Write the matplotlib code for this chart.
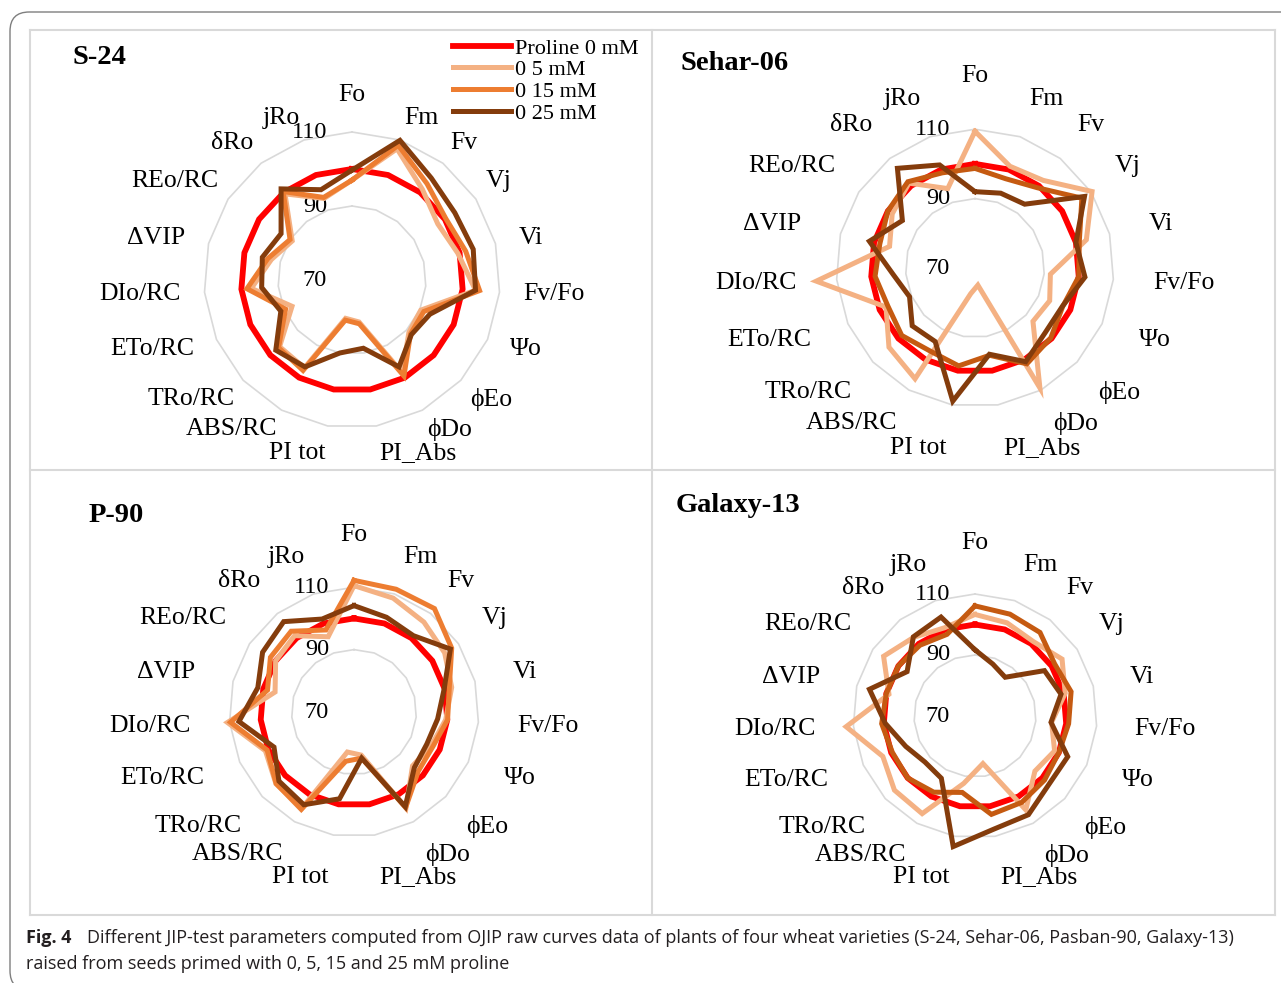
import matplotlib
matplotlib.use("Agg")
import matplotlib.pyplot as plt
from matplotlib.lines import Line2D
from matplotlib.patches import FancyBboxPatch
import numpy as np

W, H = 1281, 983

params = ['Fo', 'Fm', 'Fv', 'Vj', 'Vi', 'Fv/Fo', 'Ψo', 'ϕEo', 'ϕDo', 'PI_Abs',
          'PI tot', 'ABS/RC', 'TRo/RC', 'ETo/RC', 'DIo/RC', 'ΔVIP', 'REo/RC', 'δRo', 'jRo']
legend_labels = ['Proline 0 mM', '0 5 mM', '0 15 mM', '0 25 mM']

# values in % of control
s24_0 = [100] * 19
s24_5 = [97, 107.5, 101, 97.7, 99.5, 103.5, 90.3, 90.9, 98.5, 81.5,
         80.5, 97, 96.6, 87.7, 97.3, 92.5, 89.3, 99.5, 93.3]
s24_15 = [97, 108.5, 103, 100.3, 101.7, 104.6, 91.2, 91.5, 99.5, 82,
          81, 97.8, 97, 89.6, 98.5, 93.5, 90, 100.3, 93.6]
s24_25 = [99.7, 109.9, 104.9, 103.2, 103.8, 103.5, 93, 91.8, 96.7, 88.7,
          90, 96.7, 98, 91, 94.5, 95, 92.9, 101.2, 95.8]

seh_0 = [100] * 19
seh_5 = [109.4, 101, 102, 110.3, 103.1, 91.8, 93.5, 92.7, 109.3, 75,
         77.5, 106.3, 103.7, 98, 115.9, 95.4, 98.5, 101, 94.2]
seh_15 = [98.7, 97.2, 99.3, 106.8, 101, 100, 97.6, 99.7, 101.4, 95.5,
          98.6, 97.2, 98.7, 97.4, 98.9, 98.3, 100, 101.5, 99]
seh_25 = [92, 92.8, 93.3, 107.7, 100, 101.8, 97.5, 97.5, 100.7, 95.2,
          108.9, 94.1, 94.6, 90.6, 93.6, 101.4, 95, 106.4, 101.4]

p90_0 = [100] * 19
p90_5 = [110.5, 108.6, 106.5, 104.7, 102.3, 99.5, 97, 95.5, 105, 84,
         83, 105, 104, 101, 110.7, 96.1, 100, 101, 95.5]
p90_15 = [112.2, 111.6, 112, 107.4, 101.5, 100.1, 97.6, 98, 104.8, 85,
          86, 105.5, 103.9, 100.4, 109.7, 98.6, 102, 102.8, 97.8]
p90_25 = [104.1, 102.1, 101, 106.9, 99.8, 96.9, 95.5, 96.3, 104.5, 85,
          98.2, 103.8, 102.7, 98, 107, 101.8, 105, 106.7, 101.5]

gal_0 = [100] * 19
gal_5 = [103.3, 102.3, 101, 104.1, 100.5, 95.2, 98.5, 96.7, 105, 85.8,
         92.4, 106.4, 105.9, 103, 112.4, 99.1, 105.8, 102.7, 100.6]
gal_15 = [106.1, 105.3, 104.7, 101.2, 102.5, 100.8, 100, 101, 102.2, 102.7,
          95.4, 98.4, 100, 99.6, 100.7, 100, 100, 99.4, 98.3]
gal_25 = [91.7, 88, 86.1, 97.2, 99.1, 95, 103.2, 103, 106.8, 107.6,
          113.4, 93.2, 92.3, 94.8, 99.5, 105.7, 96.6, 102.9, 104.3]

# panel: title, title pos (px), centre (px), px per unit, label distance (px), series, 15 mM colour
panels = [
    ('S-24', (73, 58), (352, 280), 3.7, 168, [s24_0, s24_5, s24_15, s24_25], '#ED7D31'),
    ('Sehar-06', (680, 63), (975, 268), 3.47, 175, [seh_0, seh_5, seh_15, seh_25], '#C55A11'),
    ('P-90', (89, 516), (354, 712), 3.12, 160, [p90_0, p90_5, p90_15, p90_25], '#ED7D31'),
    ('Galaxy-13', (676, 506), (975, 716), 3.05, 156, [gal_0, gal_5, gal_15, gal_25], '#C55A11'),
]

serif = ['Liberation Serif', 'DejaVu Serif']
plt.rcParams['font.family'] = serif

fig = plt.figure(figsize=(W / 100, H / 100), dpi=100)

# outer rounded border
fig.add_artist(FancyBboxPatch((10 / W, 1 - 990 / H), 1300 / W, 978 / H,
                              boxstyle='round,pad=0,rounding_size=0.015',
                              transform=fig.transFigure, fill=False,
                              edgecolor='#7f7f7f', lw=1.0, mutation_aspect=W / H))
# panel frames
fc = '#D9D9D9'
for xs, ys in [([30, 1275], [30, 30]), ([30, 1275], [470, 470]), ([30, 1275], [915, 915]),
               ([30, 30], [30, 915]), ([652, 652], [30, 915]), ([1275, 1275], [30, 915])]:
    fig.add_artist(Line2D([x / W for x in xs], [1 - y / H for y in ys],
                          transform=fig.transFigure, color=fc, lw=1.5))

theta = np.linspace(0, 2 * np.pi, 19, endpoint=False)
theta_c = np.append(theta, theta[0])
rmax_units = 52

for title, tpos, (cx, cy), scale, dlab, series, c15 in panels:
    h = rmax_units * scale
    ax = fig.add_axes([(cx - h) / W, 1 - (cy + h) / H, 2 * h / W, 2 * h / H],
                      projection='polar')
    ax.set_theta_zero_location('N')
    ax.set_theta_direction(-1)
    ax.set_ylim(70, 70 + rmax_units)
    ax.grid(False)
    ax.set_xticks([])
    ax.set_yticks([])
    ax.spines['polar'].set_visible(False)
    ax.patch.set_alpha(0)

    for g in [90, 110]:
        ax.plot(theta_c, [g] * 20, color='#D9D9D9', lw=1.2, zorder=1)
    for v in [70, 90, 110]:
        ax.annotate(str(v), xy=(0, v), xytext=(-18, 0), textcoords='offset points',
                    ha='right', va='center', fontsize=17.5, family=serif)

    colors = ['#FF0000', '#F4B183', c15, '#843C0C']
    widths = [4.2, 3.6, 3.6, 3.6]
    handles = []
    for vals, col, lw in zip(series, colors, widths):
        ln, = ax.plot(theta_c, list(vals) + [vals[0]], color=col, lw=lw,
                      solid_joinstyle='miter', zorder=3)
        handles.append(ln)

    for t, name in zip(theta, params):
        sx, sy = np.sin(t), np.cos(t)
        ha = 'left' if sx > 0.1 else ('right' if sx < -0.1 else 'center')
        va = 'bottom' if sy > 0.5 else ('top' if sy < -0.5 else 'center')
        if abs(sx) < 0.1:
            d = dlab + 6
        elif va == 'center':
            d = dlab + 4
        elif name in ('ϕDo', 'ABS/RC'):
            d = dlab - 11
        elif name in ('PI_Abs', 'PI tot'):
            d = dlab - 4
        else:
            d = dlab - 8
        ax.text(t, 70 + d / scale, name, ha=ha, va=va, fontsize=18.5, family=serif,
                clip_on=False)

    fig.text(tpos[0] / W, 1 - tpos[1] / H, title, fontsize=20.5, fontweight='bold',
             family=serif, ha='left', va='center')

    if title == 'S-24':
        ax.legend(handles, legend_labels, loc='upper left',
                  bbox_to_anchor=(453 / W, 1 - 38 / H), bbox_transform=fig.transFigure,
                  frameon=False, prop={'family': serif, 'size': 16},
                  handlelength=2.6, handletextpad=0.2, labelspacing=0.05,
                  borderpad=0, borderaxespad=0)

cap = ['Open Sans', 'DejaVu Sans']
fig.text(26 / W, 1 - 938 / H, 'Fig. 4', fontsize=13, fontweight='bold', family=cap,
         color='#231F20', va='center')
fig.text(87 / W, 1 - 938 / H,
         'Different JIP-test parameters computed from OJIP raw curves data of plants of '
         'four wheat varieties (S-24, Sehar-06, Pasban-90, Galaxy-13)',
         fontsize=13, family=cap, color='#231F20', va='center')
fig.text(26 / W, 1 - 964 / H, 'raised from seeds primed with 0, 5, 15 and 25 mM proline',
         fontsize=13, family=cap, color='#231F20', va='center')

fig.savefig('out.png', dpi=100)
